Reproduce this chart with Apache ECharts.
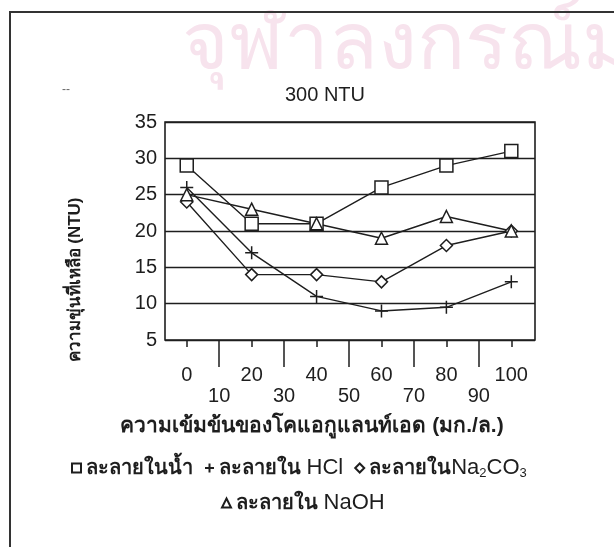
<!DOCTYPE html>
<html>
<head>
<meta charset="utf-8">
<script src="https://cdn.jsdelivr.net/npm/echarts@6/dist/echarts.min.js"></script>
<style>
  html, body { margin: 0; padding: 0; background: #fff; }
  #chart { width: 614px; height: 547px; }
</style>
</head>
<body>
<div id="chart"></div>
<script>
// Coagulant-aid dose (mg/L) at which residual turbidity was measured
const concentrations = [0, 20, 40, 60, 80, 100];
// Residual turbidity (NTU), raw water at 300 NTU, per dissolving medium
const waterVals  = [29, 21, 21, 26, 29, 31];
const hclVals    = [26, 17, 11, 9, 9.5, 13];
const na2co3Vals = [24, 14, 14, 13, 18, 20];
const naohVals   = [25, 23, 21, 19, 22, 20];

// Axis tick labels: even doses on the first row, odd doses on the second
const evenTicks = [0, 20, 40, 60, 80, 100];
const oddTicks  = [10, 30, 50, 70, 90];
const yTicks    = [5, 10, 15, 20, 25, 30, 35];

const seriesNames = ['ละลายในน้ำ', 'ละลายใน HCl', 'ละลายในNa2CO3', 'ละลายใน NaOH'];
const legendRich = {
  'ละลายในน้ำ':    '{b|ละลายในน้ำ}',
  'ละลายใน HCl':   '{b|ละลายใน} {n|HCl}',
  'ละลายในNa2CO3': '{b|ละลายใน}{n|Na}{s|2}{n|CO}{s|3}',
  'ละลายใน NaOH':  '{b|ละลายใน} {n|NaOH}'
};

const FONT = "'Liberation Sans', Arial, 'Noto Sans', sans-serif";
const INK = '#1e1e1e';
const PLUS = 'path://M5,0L5,10M0,5L10,5';

const chart = echarts.init(document.getElementById('chart'), null, { renderer: 'canvas' });

function lineSeries(name, vals, symbol, size) {
  return {
    name: name,
    type: 'line',
    data: concentrations.map((c, i) => [c, vals[i]]),
    symbol: symbol,
    symbolSize: size,
    showAllSymbol: true,
    lineStyle: { color: INK, width: 1.4 },
    itemStyle: { color: '#fff', borderColor: INK, borderWidth: 1.5 },
    emphasis: { disabled: true },
    animation: false,
    z: 3
  };
}

const legendText = {
  fontFamily: FONT,
  fontSize: 20,
  color: INK,
  rich: {
    b: { fontFamily: FONT, fontSize: 20, fontWeight: 'bold', color: INK },
    n: { fontFamily: FONT, fontSize: 22, color: INK },
    s: { fontFamily: FONT, fontSize: 13, color: INK, padding: [11, 0, 0, 0] }
  }
};
const legendFormatter = name => legendRich[name] || name;

const option = {
  backgroundColor: '#fff',
  animation: false,
  title: {
    text: '300 NTU',
    left: 320,
    textAlign: 'center',
    top: 80,
    textStyle: { fontFamily: FONT, fontSize: 20, fontWeight: 'normal', color: INK }
  },
  grid: {
    left: 165, top: 122, right: 79, bottom: 207,
    show: true,
    borderColor: INK,
    borderWidth: 1.6,
    backgroundColor: 'transparent'
  },
  legend: [
    {
      data: [
        { name: seriesNames[0], icon: 'rect' },
        { name: seriesNames[1], icon: PLUS },
        { name: seriesNames[2], icon: 'diamond' }
      ],
      left: 66,
      top: 452,
      itemWidth: 9,
      itemHeight: 9,
      itemGap: 11,
      itemTextGap: 7,
      selectedMode: false,
      textStyle: legendText,
      formatter: legendFormatter
    },
    {
      data: [{ name: seriesNames[3], icon: 'triangle' }],
      left: 216,
      top: 487,
      itemWidth: 9,
      itemHeight: 9,
      itemTextGap: 6,
      selectedMode: false,
      textStyle: legendText,
      formatter: legendFormatter
    }
  ],
  xAxis: [
    {
      type: 'value',
      min: -6.7,
      max: 107.3,
      position: 'bottom',
      axisLine: { show: false },
      splitLine: { show: false },
      axisTick: { show: true, customValues: evenTicks, length: 7, inside: false,
                  lineStyle: { color: INK, width: 1.5 } },
      axisLabel: { customValues: evenTicks, margin: 25, fontFamily: FONT, fontSize: 20, color: INK }
    },
    {
      type: 'value',
      min: -6.7,
      max: 107.3,
      position: 'bottom',
      axisLine: { show: false },
      splitLine: { show: false },
      axisTick: { show: true, customValues: oddTicks, length: 27, inside: false,
                  lineStyle: { color: INK, width: 1.5 } },
      axisLabel: { customValues: oddTicks, margin: 46, fontFamily: FONT, fontSize: 20, color: INK }
    }
  ],
  yAxis: {
    type: 'value',
    min: 5,
    max: 35,
    interval: 5,
    axisLine: { show: false },
    axisTick: { show: false },
    splitLine: { show: true, lineStyle: { color: INK, width: 1.4 } },
    axisLabel: {
      customValues: yTicks,
      margin: 8, fontFamily: FONT, fontSize: 20, color: INK
    }
  },
  series: [
    lineSeries(seriesNames[0], waterVals, 'rect', 13),
    lineSeries(seriesNames[1], hclVals, PLUS, 13),
    lineSeries(seriesNames[2], na2co3Vals, 'diamond', 12),
    lineSeries(seriesNames[3], naohVals, 'triangle', 12)
  ],
  graphic: [
    // page watermark behind the figure
    {
      type: 'text',
      left: 182, top: 6, z: -10, silent: true,
      style: {
        text: 'จุฬาลงกรณ์มหาวิทยาลัย',
        font: "80px 'Noto Sans', sans-serif",
        fill: '#f7e3ed'
      }
    },
    // figure frame (left and top edges)
    {
      type: 'polyline', z: 5, silent: true,
      shape: { points: [[10, 547], [10, 12], [614, 12]] },
      style: { stroke: '#333', lineWidth: 2, fill: null }
    },
    {
      type: 'text', left: 62, top: 84, silent: true,
      style: { text: '--', font: "12px 'Liberation Sans', sans-serif", fill: '#666' }
    },
    // x-axis title
    {
      type: 'text', x: 312, y: 426, silent: true,
      style: {
        text: 'ความเข้มข้นของโคแอกูแลนท์เอด (มก./ล.)',
        font: "bold 21px 'Liberation Sans', 'Noto Sans', sans-serif",
        fill: INK, align: 'center', verticalAlign: 'middle'
      }
    },
    // y-axis title
    {
      type: 'text', x: 75, y: 280, rotation: Math.PI / 2, silent: true,
      style: {
        text: 'ความขุ่นที่เหลือ (NTU)',
        font: "bold 17px 'Liberation Sans', 'Noto Sans', sans-serif",
        fill: INK, align: 'center', verticalAlign: 'middle'
      }
    }
  ]
};

chart.setOption(option);
</script>
</body>
</html>
